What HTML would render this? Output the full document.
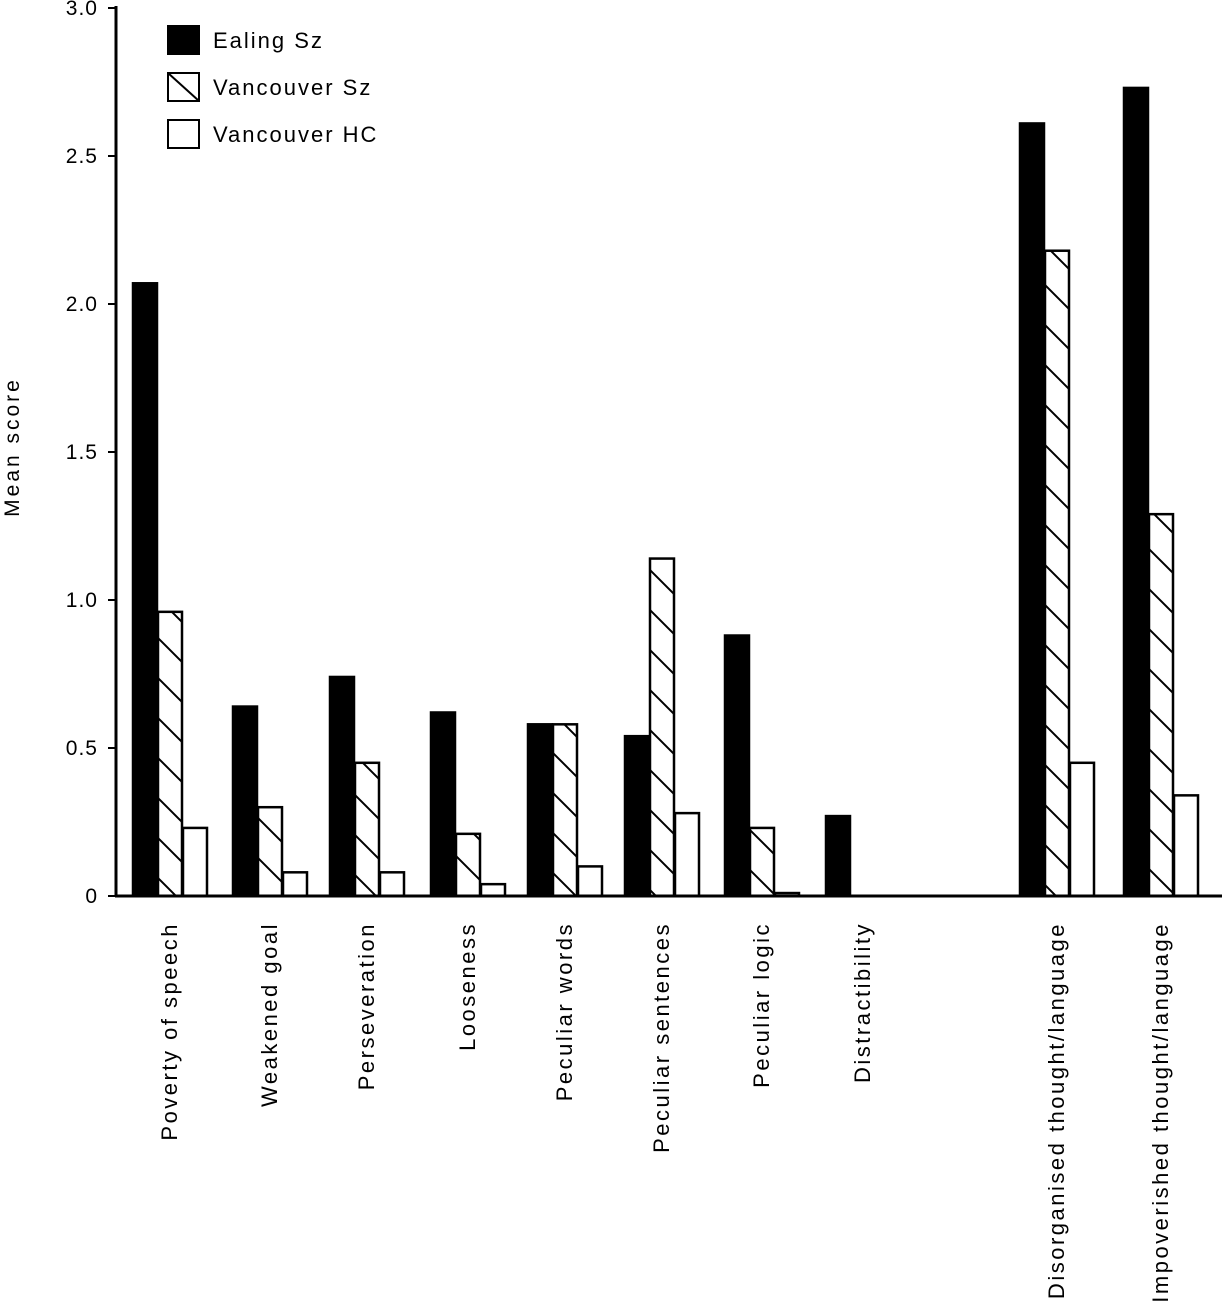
<!DOCTYPE html>
<html><head><meta charset="utf-8"><style>
body{margin:0;background:#fff}
svg{display:block;font-family:"Liberation Sans",Arial,sans-serif}
</style></head><body>
<svg id="chart" width="1222" height="1305" viewBox="0 0 1222 1305">
<defs>
<pattern id="hatch" patternUnits="userSpaceOnUse" width="40" height="40">
<path d="M-10,-10 L50,50 M-10,30 L10,50 M30,-10 L50,10" stroke="#000" stroke-width="2"/>
</pattern>
</defs>
<g id="bars"></g>
<g id="axes"></g>
<g id="legend">
<rect x="168" y="26" width="31" height="28" fill="#000" stroke="#000" stroke-width="2"/>
<text x="213" y="48" font-size="22" letter-spacing="2">Ealing Sz</text>
<rect x="168" y="73" width="31" height="28" fill="#fff" stroke="#000" stroke-width="2"/>
<line x1="168" y1="73" x2="199" y2="101" stroke="#000" stroke-width="2"/>
<text x="213" y="95" font-size="22" letter-spacing="2">Vancouver Sz</text>
<rect x="168" y="120" width="31" height="28" fill="#fff" stroke="#000" stroke-width="2"/>
<text x="213" y="142" font-size="22" letter-spacing="2">Vancouver HC</text>
</g>
</svg>
<script>
const categories=["Poverty of speech","Weakened goal","Perseveration","Looseness","Peculiar words","Peculiar sentences","Peculiar logic","Distractibility","Disorganised thought/language","Impoverished thought/language"];
const groupStart=[133,233,330,431,528,625,725,826,1020,1124];
const ealingSz=[2.07,0.64,0.74,0.62,0.58,0.54,0.88,0.27,2.61,2.73];
const vancouverSz=[0.96,0.30,0.45,0.21,0.58,1.14,0.23,0,2.18,1.29];
const vancouverHC=[0.23,0.08,0.08,0.04,0.10,0.28,0.01,0,0.45,0.34];
const yTicks=[0,0.5,1.0,1.5,2.0,2.5,3.0];
const yTickLabels=["0","0.5","1.0","1.5","2.0","2.5","3.0"];
const NS="http://www.w3.org/2000/svg";
const y0=896,pxPerUnit=296,barW=24;
function yScale(v){return y0-v*pxPerUnit;}
const bars=document.getElementById('bars'),axes=document.getElementById('axes');
function mk(tag,attrs,parent){const e=document.createElementNS(NS,tag);for(const k in attrs)e.setAttribute(k,attrs[k]);parent.appendChild(e);return e;}
const series=[[ealingSz,"#000","ealing-sz"],[vancouverSz,"url(#hatch)","vancouver-sz"],[vancouverHC,"#fff","vancouver-hc"]];
categories.forEach((c,i)=>{
  series.forEach((s,j)=>{
    const v=s[0][i];if(v<=0)return;
    const x=groupStart[i]+j*(barW+1);
    const r=mk('rect',{x:x,y:yScale(v),width:barW,height:y0-yScale(v),fill:s[1],stroke:"#000","stroke-width":2.5},bars);
    
    
  });
  const cx=groupStart[i]+37;
  const t=mk('text',{transform:`translate(${cx+7},922) rotate(-90)`,"text-anchor":"end","font-size":22,"letter-spacing":2.5},axes);
  t.textContent=c;
  
  
});
const yl=mk('line',{x1:116,y1:6,x2:116,y2:897,stroke:"#000","stroke-width":3},axes);


const xl=mk('line',{x1:115,y1:896,x2:1222,y2:896,stroke:"#000","stroke-width":3},axes);


yTicks.forEach((v,i)=>{
  const tk=mk('line',{x1:108,y1:yScale(v),x2:116,y2:yScale(v),stroke:"#000","stroke-width":2},axes);
  
  
  const t=mk('text',{x:98,y:yScale(v)+7,"text-anchor":"end","font-size":21,"letter-spacing":1},axes);
  t.textContent=yTickLabels[i];
  
  
});
const yt=mk('text',{transform:"translate(19,447) rotate(-90)","text-anchor":"middle","font-size":21,"letter-spacing":3},axes);
yt.textContent="Mean score";


</script>
</body></html>
